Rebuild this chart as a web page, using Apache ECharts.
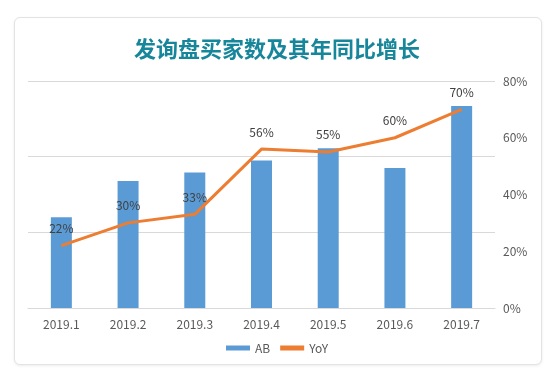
<!DOCTYPE html>
<html><head><meta charset="utf-8">
<script src="https://cdn.jsdelivr.net/npm/echarts@6/dist/echarts.min.js"></script>
<style>
html,body{margin:0;padding:0;background:#fff;}
#card{position:absolute;left:14px;top:17px;width:526px;height:346px;border:1px solid #e3e3e3;border-radius:6px;box-shadow:0 1px 3px rgba(0,0,0,0.08);background:#fff;}
#c{position:absolute;left:0;top:0;width:554px;height:374px;}
</style></head>
<body>
<div id="card"></div>
<div id="c"></div>
<script>
var categories = ['2019.1','2019.2','2019.3','2019.4','2019.5','2019.6','2019.7'];
var abValues = [120, 168, 179, 195, 211, 185, 267];
var yoyValues = [22, 30, 33, 56, 55, 60, 70];
var title = '发询盘买家数及其年同比增长';
var font = 'Noto Sans CJK SC';

var chart = echarts.init(document.getElementById('c'));
chart.setOption({
  animation: false,
  title: {
    text: title, left: 'center', top: 33,
    textStyle: {fontFamily: font, fontSize: 22, fontWeight: 'bold', color: '#17869a'}
  },
  legend: {
    bottom: 15, left: 'center', itemGap: 10,
    textStyle: {fontFamily: font, fontSize: 12, color: '#595959'},
    data: [
      {name: 'AB', icon: 'rect', itemStyle: {color: '#5B9BD5'}},
      {name: 'YoY', icon: 'rect', itemStyle: {color: '#ED7D31'}}
    ],
    itemWidth: 24, itemHeight: 5
  },
  grid: {left: 28, right: 59, top: 81, bottom: 66},
  xAxis: {
    type: 'category', data: categories,
    axisLine: {lineStyle: {color: '#d9d9d9'}},
    axisTick: {show: false},
    axisLabel: {fontFamily: font, fontSize: 12, color: '#595959', margin: 10}
  },
  yAxis: [
    {type: 'value', min: 0, max: 300, interval: 100, axisLabel: {show: false},
     splitLine: {lineStyle: {color: '#d9d9d9'}}, axisLine: {show: false}, axisTick: {show: false}},
    {type: 'value', min: 0, max: 80, interval: 20, position: 'right',
     axisLabel: {formatter: '{value}%', fontFamily: font, fontSize: 12, color: '#595959', margin: 8},
     splitLine: {show: false}, axisLine: {show: false}, axisTick: {show: false}}
  ],
  series: [
    {name: 'AB', type: 'bar', data: abValues, barWidth: 21, itemStyle: {color: '#5B9BD5'}, yAxisIndex: 0},
    {name: 'YoY', type: 'line', data: yoyValues, yAxisIndex: 1, symbol: 'circle', symbolSize: 0, showSymbol: true,
     lineStyle: {color: '#ED7D31', width: 3}, itemStyle: {color: '#ED7D31'},
     label: {show: true, position: 'top', distance: 11, formatter: '{c}%', fontFamily: font, fontSize: 12, color: '#404040'}}
  ]
});
</script>
</body></html>
